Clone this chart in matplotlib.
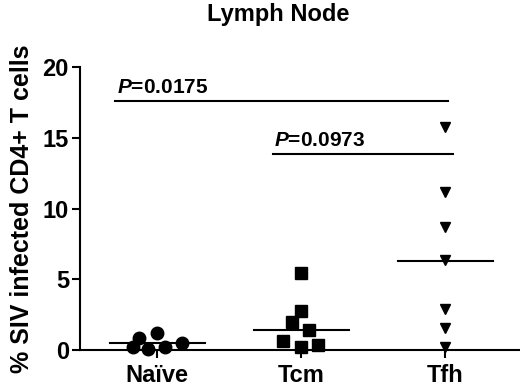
import matplotlib
matplotlib.use("Agg")
import matplotlib.pyplot as plt
import numpy as np

plt.rcParams['font.family'] = ['Liberation Sans', 'DejaVu Sans']
plt.rcParams['font.weight'] = 'bold'
plt.rcParams['mathtext.fontset'] = 'custom'
plt.rcParams['mathtext.it'] = 'Liberation Sans:italic:bold'
plt.rcParams['mathtext.rm'] = 'Liberation Sans:bold'

categories = ["Naïve", "Tcm", "Tfh"]
naive_vals = [0.23, 0.87, 0.07, 1.18, 0.19, 0.50]
naive_jit = [-0.17, -0.125, -0.06, 0.0, 0.055, 0.17]
tcm_vals = [5.44, 2.76, 1.98, 1.41, 0.64, 0.35, 0.20]
tcm_jit = [0.0, 0.0, -0.06, 0.055, -0.125, 0.12, 0.0]
tfh_vals = [15.76, 11.2, 8.7, 6.36, 2.9, 1.55, 0.2]
tfh_jit = [0, 0, 0, 0, 0, 0, 0]
center_lines = [0.5, 1.41, 6.3]
p_labels = ["0.0175", "0.0973"]
p_heights = [17.6, 13.85]
p_spans = [(-0.29, 2.02), (0.805, 2.055)]

fig = plt.figure(figsize=(5.2, 3.86), dpi=100)
ax = fig.add_axes([80/520, 36/386, 440/520, 283/386])

groups = [(naive_vals, naive_jit, 'o', 9), (tcm_vals, tcm_jit, 's', 8), (tfh_vals, tfh_jit, 'v', 7.5)]
for i, (vals, jit, mk, ms) in enumerate(groups):
    xs = i + np.array(jit, dtype=float)
    ax.plot(xs, vals, linestyle='none', marker=mk, color='black', markersize=ms, clip_on=False, zorder=3)
    ax.plot([i - 0.33, i + 0.33], [center_lines[i]] * 2, color='black', lw=1.5, clip_on=False)

for lab, h, (x0, x1) in zip(p_labels, p_heights, p_spans):
    ax.plot([x0, x1], [h, h], color='black', lw=1.5, clip_on=False)
    ax.text(x0 + 0.01, h + 0.3, r"$\mathit{P}$=" + lab, fontsize=15, fontweight='bold', ha='left', va='bottom')

ax.set_xlim(-0.535, 2.52)
ax.set_ylim(0, 20)
ax.set_xticks(range(3))
ax.set_xticklabels(categories, fontsize=17, fontweight='bold')
ax.set_yticks([0, 5, 10, 15, 20])
ax.set_yticklabels(["0", "5", "10", "15", "20"], fontsize=17, fontweight='bold')
ax.tick_params(axis='both', direction='out', length=6, width=1.5, color='black')
ax.tick_params(axis='x', pad=4)
ax.tick_params(axis='y', pad=2)
for s in ['top', 'right']:
    ax.spines[s].set_visible(False)
for s in ['left', 'bottom']:
    ax.spines[s].set_linewidth(1.5)
ax.set_ylabel("% SIV infected CD4+ T cells", fontsize=18, fontweight='bold', labelpad=6)
fig.text(0.535, 0.962, "Lymph Node", fontsize=17, fontweight='bold', ha='center', va='center')

fig.savefig("out.png", dpi=100)
